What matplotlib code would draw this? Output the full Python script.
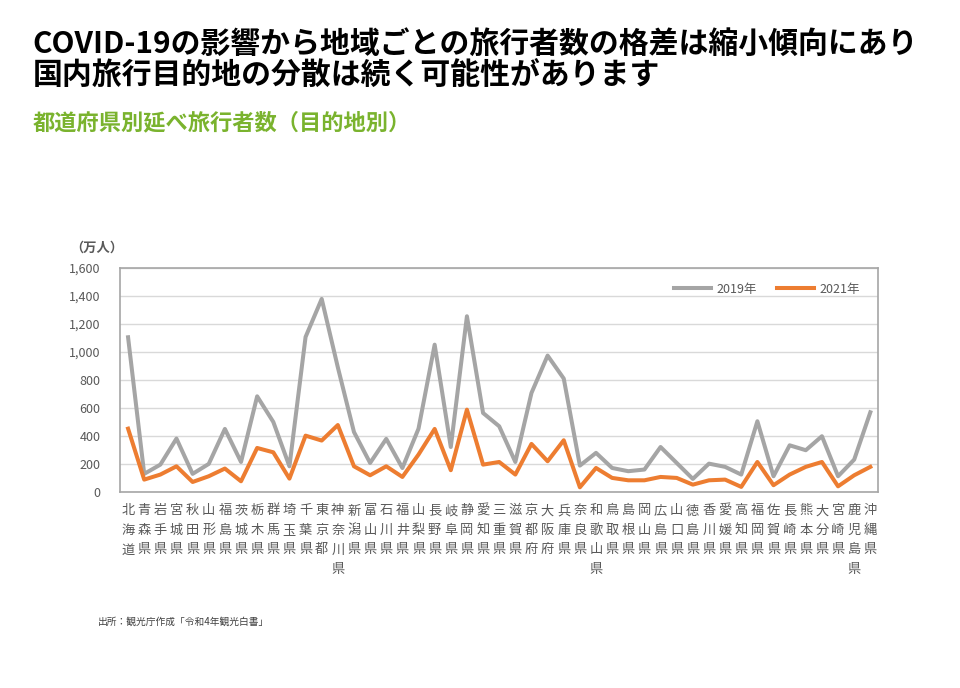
import matplotlib
matplotlib.use("Agg")
import matplotlib.pyplot as plt
from matplotlib.ticker import FuncFormatter

plt.rcParams['font.family'] = ['Noto Sans CJK JP', 'DejaVu Sans']

prefectures = [
    "北海道", "青森県", "岩手県", "宮城県", "秋田県", "山形県", "福島県", "茨城県",
    "栃木県", "群馬県", "埼玉県", "千葉県", "東京都", "神奈川県", "新潟県", "富山県",
    "石川県", "福井県", "山梨県", "長野県", "岐阜県", "静岡県", "愛知県", "三重県",
    "滋賀県", "京都府", "大阪府", "兵庫県", "奈良県", "和歌山県", "鳥取県", "島根県",
    "岡山県", "広島県", "山口県", "徳島県", "香川県", "愛媛県", "高知県", "福岡県",
    "佐賀県", "長崎県", "熊本県", "大分県", "宮崎県", "鹿児島県", "沖縄県",
]

# 延べ旅行者数（万人）
travelers_2019 = [
    1105, 129, 195, 381, 129, 200, 450, 214, 683, 500, 183, 1107, 1379, 890, 428, 207,
    379, 171, 452, 1052, 321, 1255, 564, 469, 214, 707, 974, 810, 188, 279, 171, 148,
    160, 321, 207, 93, 202, 179, 124, 505, 112, 333, 298, 398, 112, 231, 569,
]
travelers_2021 = [
    452, 88, 124, 183, 71, 112, 167, 76, 314, 283, 95, 402, 367, 478, 183, 119,
    183, 107, 267, 450, 155, 588, 195, 214, 124, 343, 219, 369, 33, 171, 100, 83,
    83, 107, 100, 52, 83, 88, 36, 214, 48, 124, 179, 214, 40, 119, 179,
]

fig = plt.figure(figsize=(9.6, 6.88), dpi=100)

fig.text(0.034, 0.923, "COVID-19の影響から地域ごとの旅行者数の格差は縮小傾向にあり",
         fontsize=21.5, fontweight='bold', color='black', va='baseline')
fig.text(0.034, 0.877, "国内旅行目的地の分散は続く可能性があります",
         fontsize=21.5, fontweight='bold', color='black', va='baseline')
fig.text(0.034, 0.812, "都道府県別延べ旅行者数（目的地別）",
         fontsize=16, fontweight='bold', color='#7AB32E', va='baseline')

ax = fig.add_axes([0.125, 0.285, 0.79, 0.3255])
x = list(range(len(prefectures)))
ax.plot(x, travelers_2019, color='#A5A5A5', lw=2.9, label='2019年', zorder=3)
ax.plot(x, travelers_2021, color='#ED7D31', lw=2.9, label='2021年', zorder=4)

ax.set_xlim(-0.5, len(prefectures) - 0.5)
ax.set_ylim(0, 1600)
ax.set_yticks(range(0, 1601, 200))
ax.yaxis.set_major_formatter(FuncFormatter(lambda v, p: f"{int(v):,}"))
ax.grid(axis='y', color='#D9D9D9', lw=1)
ax.set_axisbelow(True)
for s in ax.spines.values():
    s.set_color('#A6A6A6')
    s.set_linewidth(1.2)
ax.tick_params(axis='y', length=0, labelsize=9, labelcolor='#595959', pad=14)
ax.set_xticks(x)
ax.set_xticklabels(["\n".join(p) for p in prefectures], fontsize=9.5,
                   color='#595959', linespacing=1.65, va='top')
ax.tick_params(axis='x', length=0, pad=9)

ax.text(-0.066, 1.09, "（万人）", transform=ax.transAxes, fontsize=9.5,
        fontweight='bold', color='#595959', ha='left', va='center')

ax.legend(loc='upper right', bbox_to_anchor=(0.99, 0.985), ncol=2, frameon=False,
          fontsize=9, labelcolor='#595959', handlelength=3.0, columnspacing=1.6,
          handletextpad=0.4)

fig.text(0.102, 0.096, "出所：観光庁作成「令和4年観光白書」", fontsize=7,
         color='#404040', va='center')

fig.savefig("out.png", dpi=100)
